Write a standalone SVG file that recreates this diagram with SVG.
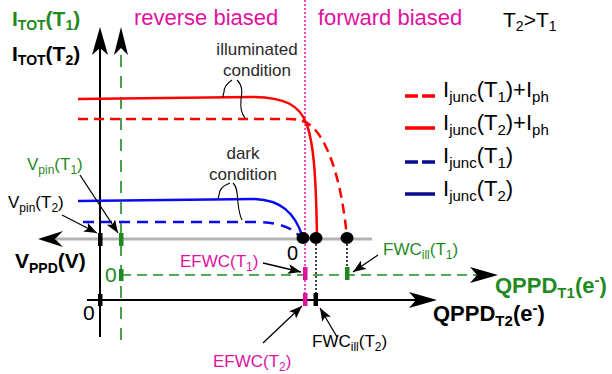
<svg xmlns="http://www.w3.org/2000/svg" width="612" height="374" viewBox="0 0 612 374">
<style>
text{font-family:"Liberation Sans",Arial,sans-serif}
.b{font-weight:bold}
.mag{fill:#e0119e}
.grn{fill:#1f8a1f}
.blk{fill:#000}
.cond{fill:#2a2a2a;font-size:17px}
.ann{stroke:#000;stroke-width:1.3;fill:none;marker-end:url(#ah)}
.brace{stroke:#000;stroke-width:1.1;fill:none}
.red{stroke:#ff0000;stroke-width:2.5;fill:none}
.redd{stroke:#ff0000;stroke-width:2.5;fill:none;stroke-dasharray:10 6}
.blue{stroke:#0a0af0;stroke-width:2.5;fill:none}
.blued{stroke:#0a0af0;stroke-width:2.5;fill:none;stroke-dasharray:11 7}
</style>
<defs>
<marker id="ah" markerUnits="userSpaceOnUse" markerWidth="14" markerHeight="10" refX="13" refY="5" orient="auto">
<path d="M0,0 L13,5 L0,10 L3,5 z" fill="#000"/>
</marker>
</defs>

<g id="axes">
<line x1="100" y1="45" x2="100" y2="337" stroke="#000" stroke-width="2"/>
<polygon points="100,27 108,55 100,48 92,55" fill="#000"/>
<line x1="121" y1="55" x2="121" y2="340" stroke="#1f8a1f" stroke-width="1.6" stroke-dasharray="12 9"/>
<polygon points="121,27 128,55 121,48 114,55" fill="#000"/>
<line x1="56" y1="239" x2="372" y2="239" stroke="#b3b3b3" stroke-width="3"/>
<polygon points="38,239 63,231 55,239 63,247" fill="#000"/>
<line x1="121" y1="275" x2="480" y2="275" stroke="#1f8a1f" stroke-width="1.6" stroke-dasharray="10 6"/>
<polygon points="498,275 470,267 477,275 470,283" fill="#000"/>
<line x1="87" y1="300" x2="420" y2="300" stroke="#000" stroke-width="2"/>
<polygon points="437,300 409,292 416,300 409,308" fill="#000"/>
<line x1="305" y1="0" x2="305" y2="300" stroke="#e0119e" stroke-width="1.5" stroke-dasharray="2 2"/>
<line x1="316" y1="240" x2="316" y2="300" stroke="#000" stroke-width="1.5" stroke-dasharray="2 2"/>
<line x1="347" y1="240" x2="347" y2="270" stroke="#000" stroke-width="1.5" stroke-dasharray="2 2"/>
</g>

<g id="curves">
<path class="red" d="M78,99 L250,97 C285,97 300,105 307,125 C313,142 316,170 317,238"/>
<path class="redd" d="M78,119 L290,119 C305,119 315,125 325,145 C335,165 343,195 347,238"/>
<path class="blue" d="M78,201 L255,199 C280,200 295,212 303,238"/>
<path class="blued" d="M83,222 L260,222 C280,223 293,228 300,237"/>
</g>

<g id="points">
<ellipse cx="303" cy="238" rx="6.5" ry="6" fill="#000"/>
<ellipse cx="316" cy="238" rx="6.5" ry="6" fill="#000"/>
<ellipse cx="347" cy="238" rx="6.5" ry="6" fill="#000"/>
<rect x="98" y="233" width="4.5" height="13" fill="#000"/>
<rect x="119" y="233" width="4.5" height="13" fill="#1f8a1f"/>
<rect x="98" y="294" width="4.5" height="12" fill="#000"/>
<rect x="119" y="269" width="4.5" height="12" fill="#1f8a1f"/>
<rect x="303" y="267" width="4.5" height="13" fill="#e0119e"/>
<rect x="303" y="293" width="4.5" height="13" fill="#e0119e"/>
<rect x="313.5" y="293" width="4.5" height="13" fill="#000"/>
<rect x="345" y="267" width="4.5" height="13" fill="#1f8a1f"/>
</g>

<g id="connectors">
<path class="ann" d="M62,215 L97,233"/>
<path class="ann" d="M80,175 L118,233"/>
<path class="ann" d="M263,263 L301,272"/>
<path class="ann" d="M378,255 L353,272"/>
<path class="ann" d="M263,343 L302,306"/>
<path class="ann" d="M337,337 L320,308"/>
<path class="brace" d="M232,80 C226,84 224,88 224,92 C223,95 223,96 223,97"/>
<path class="brace" d="M237,80 C243,86 242,92 241,100 C240,108 242,114 245,118"/>
<path class="brace" d="M230,183 C222,186 219,190 219,195 L218,199"/>
<path class="brace" d="M233,183 C238,188 237,195 238,203 C239,212 240,216 242,220"/>
</g>

<g id="titles">
<text x="12" y="26" class="b grn" font-size="21">I<tspan font-size="14" dy="4">TOT</tspan><tspan dy="-4">(T</tspan><tspan font-size="14" dy="4">1</tspan><tspan dy="-4">)</tspan></text>
<text x="12" y="61" class="b blk" font-size="21">I<tspan font-size="14" dy="4">TOT</tspan><tspan dy="-4">(T</tspan><tspan font-size="14" dy="4">2</tspan><tspan dy="-4">)</tspan></text>
<text x="134" y="25" class="mag" font-size="22">reverse biased</text>
<text x="318" y="25" class="mag" font-size="22">forward biased</text>
<text x="503" y="27" class="blk" font-size="21">T<tspan font-size="14" dy="4">2</tspan><tspan dy="-4">&gt;T</tspan><tspan font-size="14" dy="4">1</tspan></text>
<text x="257" y="55" class="cond" text-anchor="middle">illuminated</text>
<text x="257" y="76" class="cond" text-anchor="middle">condition</text>
<text x="243" y="159" class="cond" text-anchor="middle">dark</text>
<text x="243" y="180" class="cond" text-anchor="middle">condition</text>
</g>

<g id="legend">
<line x1="405" y1="96" x2="418" y2="96" stroke="#ff0000" stroke-width="3.5"/>
<line x1="422" y1="96" x2="435" y2="96" stroke="#ff0000" stroke-width="3.5"/>
<line x1="405" y1="128" x2="435" y2="128" stroke="#ff0000" stroke-width="3.5"/>
<line x1="405" y1="162" x2="418" y2="162" stroke="#0a0a90" stroke-width="3.5"/>
<line x1="422" y1="162" x2="435" y2="162" stroke="#0a0a90" stroke-width="3.5"/>
<line x1="405" y1="194" x2="435" y2="194" stroke="#0a0a90" stroke-width="3.5"/>
<text x="443" y="97" class="blk" font-size="22">I<tspan font-size="15" dy="5">junc</tspan><tspan dy="-5">(T</tspan><tspan font-size="15" dy="5">1</tspan><tspan dy="-5">)+I</tspan><tspan font-size="15" dy="5">ph</tspan></text>
<text x="443" y="130" class="blk" font-size="22">I<tspan font-size="15" dy="5">junc</tspan><tspan dy="-5">(T</tspan><tspan font-size="15" dy="5">2</tspan><tspan dy="-5">)+I</tspan><tspan font-size="15" dy="5">ph</tspan></text>
<text x="443" y="163" class="blk" font-size="22">I<tspan font-size="15" dy="5">junc</tspan><tspan dy="-5">(T</tspan><tspan font-size="15" dy="5">1</tspan><tspan dy="-5">)</tspan></text>
<text x="443" y="196" class="blk" font-size="22">I<tspan font-size="15" dy="5">junc</tspan><tspan dy="-5">(T</tspan><tspan font-size="15" dy="5">2</tspan><tspan dy="-5">)</tspan></text>
</g>

<g id="labels">
<text x="27" y="170" class="grn" font-size="17">V<tspan font-size="12" dy="4">pin</tspan><tspan dy="-4">(T</tspan><tspan font-size="12" dy="4">1</tspan><tspan dy="-4">)</tspan></text>
<text x="8" y="208" class="blk" font-size="17">V<tspan font-size="12" dy="4">pin</tspan><tspan dy="-4">(T</tspan><tspan font-size="12" dy="4">2</tspan><tspan dy="-4">)</tspan></text>
<text x="15" y="268" class="b blk" font-size="21">V<tspan font-size="14" dy="5">PPD</tspan><tspan dy="-5">(V)</tspan></text>
<text x="287" y="260" class="blk" font-size="20">0</text>
<text x="105" y="282" class="grn" font-size="21">0</text>
<text x="83" y="320" class="blk" font-size="21">0</text>
<text x="180" y="267" class="mag" font-size="17">EFWC(T<tspan font-size="12" dy="4">1</tspan><tspan dy="-4">)</tspan></text>
<text x="383" y="255" class="grn" font-size="17">FWC<tspan font-size="12" dy="4">ill</tspan><tspan dy="-4">(T</tspan><tspan font-size="12" dy="4">1</tspan><tspan dy="-4">)</tspan></text>
<text x="312" y="347" class="blk" font-size="17">FWC<tspan font-size="12" dy="4">ill</tspan><tspan dy="-4">(T</tspan><tspan font-size="12" dy="4">2</tspan><tspan dy="-4">)</tspan></text>
<text x="213" y="367" class="mag" font-size="17">EFWC(T<tspan font-size="12" dy="4">2</tspan><tspan dy="-4">)</tspan></text>
<text x="495" y="293" class="b grn" font-size="22">QPPD<tspan font-size="15" dy="5">T1</tspan><tspan dy="-5">(e</tspan><tspan font-size="15" dy="-8">-</tspan><tspan dy="8">)</tspan></text>
<text x="433" y="321" class="b blk" font-size="22">QPPD<tspan font-size="15" dy="5">T2</tspan><tspan dy="-5">(e</tspan><tspan font-size="15" dy="-8">-</tspan><tspan dy="8">)</tspan></text>
</g>
</svg>
